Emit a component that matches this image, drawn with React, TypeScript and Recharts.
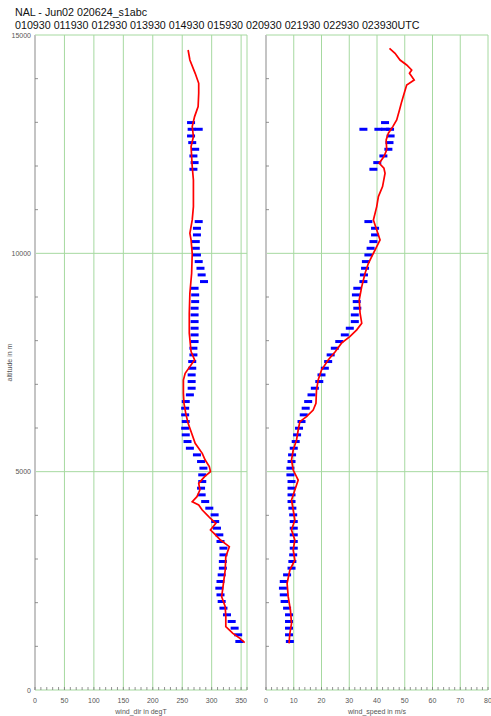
import React from 'react';
import { ScatterChart, Scatter, XAxis, YAxis, ReferenceLine } from 'recharts';

// measured profile (red line)
const redDirAlt = [14656, 14427, 14122, 13894, 13665, 13360, 13131, 12902, 12673, 12444, 12215, 11986, 11681, 11376, 11070, 10765, 10460, 10307, 10000, 9545, 9087, 8629, 8171, 7750, 7557, 7252, 7099, 6794, 6565, 6336, 6107, 5878, 5649, 5420, 5267, 5115, 5000, 4885, 4733, 4580, 4427, 4312, 4236, 4122, 3969, 3817, 3664, 3588, 3435, 3282, 3053, 2748, 2443, 2137, 1908, 1679, 1450, 1298, 1183, 1084];
const redDir = [260, 263, 272, 278, 278, 277, 271, 267, 269, 265, 266, 267, 269, 269, 269, 267, 263, 265, 267, 266, 263, 262, 262, 265, 271, 255, 252, 252, 253, 256, 260, 266, 272, 284, 289, 296, 298, 288, 278, 280, 275, 267, 278, 284, 295, 307, 298, 304, 315, 330, 324, 323, 320, 317, 323, 324, 324, 336, 348, 356];

const redSpdAlt = [14694, 14580, 14427, 14313, 14198, 14122, 13970, 13856, 13665, 13474, 13283, 13055, 12902, 12750, 12597, 12368, 12215, 12063, 11948, 11834, 11529, 11300, 11070, 10765, 10536, 10307, 10155, 10002, 9773, 9545, 9239, 8934, 8629, 8400, 8247, 8094, 7942, 7750, 7557, 7328, 7099, 6870, 6565, 6412, 6260, 6145, 5954, 5725, 5496, 5267, 5038, 4809, 4580, 4351, 4122, 3893, 3664, 3435, 3206, 2977, 2748, 2443, 2137, 1832, 1527, 1298, 1069];
const redSpd = [44.5, 46.5, 48.3, 50.7, 52.5, 51.7, 53.4, 50.7, 49.8, 48.9, 48.1, 47.1, 45.7, 44.1, 43.3, 43.5, 42.5, 40.8, 42.5, 42.9, 42.0, 40.5, 39.9, 38.7, 39.9, 41.1, 39.9, 38.7, 36.9, 35.7, 34.5, 33.6, 33.9, 34.5, 32.7, 30.2, 27.2, 25.0, 22.4, 20.0, 18.8, 18.2, 18.0, 17.0, 14.6, 12.2, 11.6, 11.0, 9.8, 9.2, 9.8, 11.6, 10.4, 9.2, 9.8, 10.4, 9.2, 10.4, 9.8, 10.4, 8.6, 7.6, 8.0, 8.8, 9.2, 8.6, 8.3];

// profiler (blue dashes)
const blueAlt = [12994, 12841, 12688, 12536, 12383, 12230, 12078, 11925,
  10727, 10574, 10422, 10269, 10116, 9963, 9811, 9658, 9506, 9353, 9200, 9048, 8895, 8743, 8590, 8437, 8285, 8132, 7980, 7827,
  7674, 7522, 7369, 7216, 7064, 6911, 6759, 6606, 6453, 6301, 6148, 5995, 5843, 5690, 5537, 5385, 5232, 5080, 4927, 4774,
  4622, 4469, 4316, 4164, 4011, 3858, 3706, 3553, 3401, 3248, 3095, 2943, 2790, 2637, 2485, 2332, 2179, 2027, 1874, 1722,
  1569, 1416, 1264, 1111];
const blueDir = [265, 266, 265, 267, 272, 269, 271, 269,
  278, 275, 275, 273, 273, 275, 278, 281, 283, 287, 271, 272, 272, 271, 271, 271, 271, 271, 271, 269,
  269, 267, 267, 266, 266, 266, 263, 256, 255, 255, 256, 255, 256, 259, 263, 275, 282, 286, 284, 284,
  282, 283, 289, 296, 305, 306, 309, 313, 315, 320, 320, 319, 319, 317, 315, 313, 315, 317, 320, 326,
  334, 339, 345, 347];
const blueSpd = [42.9, 42.9, 44.9, 44.5, 44.1, 42.3, 40.1, 38.7,
  36.9, 39.3, 39.3, 38.7, 37.7, 36.9, 36.0, 35.7, 35.3, 35.1, 32.9, 32.4, 32.7, 32.9, 32.0, 32.0, 30.2, 28.4, 26.4, 24.8,
  23.3, 22.4, 21.2, 20.0, 19.2, 17.6, 16.4, 15.2, 14.3, 13.6, 12.8, 11.9, 11.2, 10.7, 10.0, 9.4, 9.2, 8.8, 8.8, 9.2,
  9.2, 9.2, 9.2, 9.5, 9.8, 10.0, 10.0, 10.0, 10.0, 10.0, 9.8, 9.5, 9.2, 7.6, 6.4, 6.1, 6.4, 6.7, 7.6, 8.3,
  8.3, 8.3, 8.3, 8.6];
// extra dashes at the same level
const extraDirAlt = [12841];
const extraDir = [278];
const extraSpdAlt = [12841, 12841, 12841];
const extraSpd = [35.1, 40.5, 44.7];

const altTicks = [0, 1000, 2000, 3000, 4000, 5000, 6000, 7000, 8000, 9000, 10000, 11000, 12000, 13000, 14000, 15000];
const altGrid = [5000, 10000, 15000];
const dirTicks = [0, 10, 20, 30, 40, 50, 60, 70, 80, 90, 100, 110, 120, 130, 140, 150, 160, 170, 180, 190, 200, 210, 220, 230, 240, 250, 260, 270, 280, 290, 300, 310, 320, 330, 340, 350, 360];
const dirGrid = [50, 100, 150, 200, 250, 300, 350, 360];
const spdTicks = [0, 2, 4, 6, 8, 10, 12, 14, 16, 18, 20, 22, 24, 26, 28, 30, 32, 34, 36, 38, 40, 42, 44, 46, 48, 50, 52, 54, 56, 58, 60, 62, 64, 66, 68, 70, 72, 74, 76, 78, 80];
const spdGrid = [10, 20, 30, 40, 50, 60, 70, 80];

const pts = (alts: number[], vals: number[]) => alts.map((a, i) => ({ v: vals[i], alt: a }));

const GREEN = '#a6d9a0';
const AXIS = '#c4c4c4';
const TXT = '#555';

const BlueDash = (p: any) => <rect x={p.cx - 4} y={p.cy - 1.5} width={8} height={3} fill="#0000ff" />;
const NoDot = () => <g />;

const AltTick = (p: any) => {
  const v = p.payload.value;
  const major = v % 5000 === 0;
  return (
    <g>
      {!major && <line x1={p.x} x2={p.x + 3} y1={p.y} y2={p.y} stroke="#777" strokeWidth={0.8} />}
      {p.labels && major && (
        <text x={p.x - 4} y={p.y + 2.5} textAnchor="end" fontSize={7} fill={TXT}>{v}</text>
      )}
    </g>
  );
};

const BottomTick = (p: any) => {
  const v = p.payload.value;
  const major = v % p.step === 0 && v <= p.maxLabel;
  return (
    <g>
      <line x1={p.x} x2={p.x} y1={p.y} y2={p.y - 3} stroke="#777" strokeWidth={0.8} />
      {major && (
        <text x={p.x} y={p.y + 13} textAnchor="middle" fontSize={7} fill={TXT}>{v}</text>
      )}
    </g>
  );
};

const Panel = (props: any) => {
  const { margin, yWidth, domain, ticks, grid, step, maxLabel, title, red, blue, extra, yTitle } = props;
  return (
    <div style={{ position: 'absolute', left: 0, top: 0 }}>
      <ScatterChart width={491} height={716} margin={margin}>
        <XAxis
          type="number"
          dataKey="v"
          domain={domain}
          ticks={ticks}
          interval={0}
          tickSize={0}
          tickMargin={0}
          height={26}
          axisLine={{ stroke: GREEN }}
          tickLine={false}
          tick={<BottomTick step={step} maxLabel={maxLabel} />}
          allowDataOverflow
          label={{ value: title, position: 'insideBottom', offset: 2, fill: TXT, fontSize: 7, style: { fontSize: 7, fill: TXT } }}
        />
        <YAxis
          type="number"
          dataKey="alt"
          domain={[0, 15000]}
          ticks={altTicks}
          interval={0}
          tickSize={0}
          tickMargin={0}
          width={yWidth}
          axisLine={{ stroke: AXIS, strokeWidth: 2 }}
          tickLine={false}
          tick={<AltTick labels={!!yTitle} />}
          allowDataOverflow
          label={yTitle ? { value: yTitle, angle: -90, position: 'insideLeft', offset: 10, fill: TXT, fontSize: 7, style: { fontSize: 7, fill: TXT, textAnchor: 'middle' } } : undefined}
        />
        {altGrid.map((g) => (
          <ReferenceLine key={'h' + g} y={g} stroke={GREEN} strokeWidth={1} />
        ))}
        {grid.map((g: number) => (
          <ReferenceLine key={'v' + g} x={g} stroke={GREEN} strokeWidth={1} />
        ))}
        <Scatter data={blue} shape={BlueDash} isAnimationActive={false} />
        <Scatter data={extra} shape={BlueDash} isAnimationActive={false} />
        <Scatter data={red} shape={NoDot} line={{ stroke: '#ff0000', strokeWidth: 1.7 }} lineType="joint" isAnimationActive={false} />
      </ScatterChart>
    </div>
  );
};

export default function App() {
  return (
    <div style={{ position: 'absolute', left: 0, top: 0, width: 491, height: 716, background: '#fff', fontFamily: '"Liberation Sans", Arial, sans-serif', overflow: 'hidden' }}>
      <div style={{ position: 'absolute', left: 15, top: 6, fontSize: 10.7, color: '#111', whiteSpace: 'nowrap', lineHeight: '13px' }}>
        NAL - Jun02 020624_s1abc
      </div>
      <div style={{ position: 'absolute', left: 15, top: 19, fontSize: 10.7, color: '#111', whiteSpace: 'nowrap', lineHeight: '13px' }}>
        010930 011930 012930 013930 014930 015930 020930 021930 022930 023930UTC
      </div>
      <Panel
        margin={{ top: 35, right: 244, bottom: 0, left: 0 }}
        yWidth={35}
        domain={[0, 360]}
        ticks={dirTicks}
        grid={dirGrid}
        step={50}
        maxLabel={350}
        title="wind_dir in degT"
        yTitle="altitude in m"
        red={pts(redDirAlt, redDir)}
        blue={pts(blueAlt, blueDir)}
        extra={pts(extraDirAlt, extraDir)}
      />
      <Panel
        margin={{ top: 35, right: 3, bottom: 0, left: 0 }}
        yWidth={266}
        domain={[0, 80]}
        ticks={spdTicks}
        grid={spdGrid}
        step={10}
        maxLabel={80}
        title="wind_speed in m/s"
        red={pts(redSpdAlt, redSpd)}
        blue={pts(blueAlt, blueSpd)}
        extra={pts(extraSpdAlt, extraSpd)}
      />
    </div>
  );
}
